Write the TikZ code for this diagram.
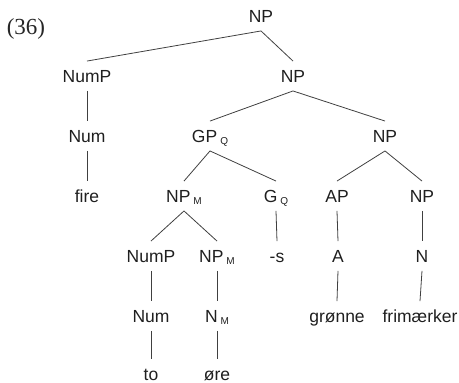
\documentclass[tikz,border=0pt]{standalone}
\usepackage{fontspec}
\setmainfont{Liberation Sans}
\newfontfamily\exnumfont{Liberation Serif}
\newcommand\mysub[1]{\hspace{3pt}\raisebox{-2pt}{\fontsize{10}{10}\selectfont #1}}
\begin{document}
\begin{tikzpicture}[x=1pt,y=-1pt,
  lab/.style={font=\fontsize{17.5}{17.5}\selectfont, text=black!88, inner xsep=0pt, inner ysep=8.5pt, text height=12.5pt, text depth=0pt},
  edge/.style={draw=black!75, line width=0.8pt}]
\useasboundingbox (0,0) rectangle (459,383);
\node[font=\exnumfont\fontsize{23}{23}\selectfont, anchor=base, inner sep=0pt, text=black!85] (ex) at (26,34) {(36)};
\node[lab] (np0) at (261,16) {NP};
\node[lab] (nump1) at (87,76) {NumP};
\node[lab] (np1) at (293,76) {NP};
\node[lab] (num1) at (87,136) {Num};
\node[lab] (gp) at (210,136) {GP\mysub{Q}};
\node[lab] (np2) at (385,136) {NP};
\node[lab] (fire) at (87,196) {fire};
\node[lab] (npm) at (184,196) {NP\mysub{M}};
\node[lab] (gq) at (276,196) {G\mysub{Q}};
\node[lab] (ap) at (337,196) {AP};
\node[lab] (np3) at (422,196) {NP};
\node[lab] (nump2) at (151,256) {NumP};
\node[lab] (npm2) at (217,256) {NP\mysub{M}};
\node[lab] (s) at (277,256) {-s};
\node[lab] (a) at (338,256) {A};
\node[lab] (n) at (422,256) {N};
\node[lab] (num2) at (151,316) {Num};
\node[lab] (nm) at (217,316) {N\mysub{M}};
\node[lab] (gronne) at (337,316) {grønne};
\node[lab] (frim) at (420,316) {frimærker};
\node[lab] (to) at (151,374) {to};
\node[lab] (ore) at (217,374) {øre};
\draw[edge] (np0.south) -- (nump1.north);
\draw[edge] (np0.south) -- (np1.north);
\draw[edge] (nump1.south) -- (num1.north);
\draw[edge] (num1.south) -- (fire.north);
\draw[edge] (np1.south) -- (gp.north);
\draw[edge] (np1.south) -- (np2.north);
\draw[edge] (gp.south) -- (npm.north);
\draw[edge] (gp.south) -- (gq.north);
\draw[edge] (np2.south) -- (ap.north);
\draw[edge] (np2.south) -- (np3.north);
\draw[edge] (npm.south) -- (nump2.north);
\draw[edge] (npm.south) -- (npm2.north);
\draw[edge] (gq.south) -- (s.north);
\draw[edge] (ap.south) -- (a.north);
\draw[edge] (np3.south) -- (n.north);
\draw[edge] (nump2.south) -- (num2.north);
\draw[edge] (npm2.south) -- (nm.north);
\draw[edge] (a.south) -- (gronne.north);
\draw[edge] (n.south) -- (frim.north);
\draw[edge] (num2.south) -- (to.north);
\draw[edge] (nm.south) -- (ore.north);
\end{tikzpicture}
\end{document}
